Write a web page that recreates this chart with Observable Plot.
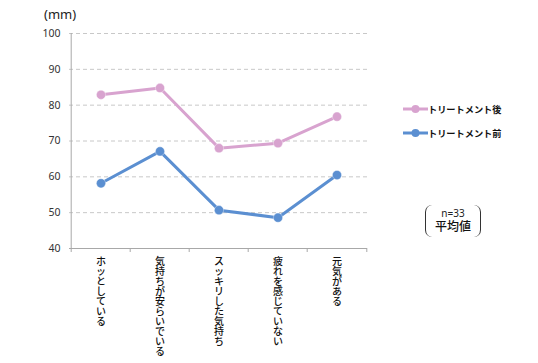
<!DOCTYPE html>
<html><head><meta charset="utf-8">
<script src="https://cdn.jsdelivr.net/npm/d3@7"></script>
<script src="https://cdn.jsdelivr.net/npm/@observablehq/plot@0.6"></script>
<style>
body{margin:0;background:#fff;}
#wrap{position:relative;width:538px;height:363px;font-family:"Noto Sans CJK JP","Noto Sans",sans-serif;color:#222;}
#unit{position:absolute;left:44px;top:5px;font-size:13px;font-family:"Noto Sans",sans-serif;color:#222;}
.leg{position:absolute;left:403px;font-size:9.2px;font-weight:bold;display:flex;align-items:center;white-space:nowrap;color:#111;}
.leg svg{display:block;}
#nbox{position:absolute;left:425px;top:205px;width:54px;height:32px;border-left:1.3px solid #333;border-right:1.3px solid #333;border-radius:7px;text-align:center;line-height:1;}
#nbox .n{font-size:10px;font-family:"Noto Sans",sans-serif;margin-top:3px;color:#222;}
#nbox .m{font-size:12px;margin-top:2px;color:#111;font-weight:500;}
</style></head>
<body><div id="wrap"></div>
<script>
const categories = ["ホッとしている","気持ちが安らいでいる","スッキリした気持ち","疲れを感じていない","元気がある"];
const seriesNames = ["トリートメント後","トリートメント前"];
const afterValues = [82.9, 84.8, 68.0, 69.4, 76.8];
const beforeValues = [58.2, 67.1, 50.7, 48.6, 60.5];
const yTicks = [40,50,60,70,80,90,100];
const colors = ["#d8a3cf","#5b8fd1"];
const unitLabel = "(mm)";
const nLabel = "n=33";
const meanLabel = "平均値";

const rows = [
  ...categories.map((c,i)=>({cat:c, value:afterValues[i], series:seriesNames[0]})),
  ...categories.map((c,i)=>({cat:c, value:beforeValues[i], series:seriesNames[1]}))
];

const W=538,H=363,mL=69,mR=171,mT=33,mB=115;
const bw=(W-mL-mR)/categories.length;

const chart = Plot.plot({
  width:W, height:H, marginLeft:mL, marginRight:mR, marginTop:mT, marginBottom:mB,
  style:{fontFamily:"'Noto Sans',sans-serif", fontSize:"10.5px", color:"#333", background:"white", overflow:"visible"},
  x:{type:"band", domain:categories, padding:0, axis:null},
  y:{domain:[40,100], axis:null},
  color:{domain:seriesNames, range:colors},
  marks:[
    Plot.gridY(yTicks, {stroke:"#c8c8c8", strokeOpacity:1, strokeDasharray:"4,3"}),
    Plot.ruleY([40], {stroke:"#a8a8a8"}),
    Plot.ruleX([categories[0]], {x:d=>d, dx:-bw/2, stroke:"#a8a8a8"}),
    Plot.axisX(categories, {tickSize:4, dx:-bw/2, tickFormat:()=>"", stroke:"#a8a8a8", label:null}),
    Plot.axisX([categories[categories.length-1]], {tickSize:4, dx:bw/2, tickFormat:()=>"", stroke:"#a8a8a8", label:null}),
    Plot.axisY(yTicks, {tickSize:0, tickPadding:9, label:null, fill:"#333"}),
    Plot.line(rows, {x:"cat", y:"value", z:"series", stroke:"series", strokeWidth:3}),
    Plot.dot(rows, {x:"cat", y:"value", fill:"series", r:4.6, stroke:"white", strokeWidth:0.6, strokeOpacity:0.6}),
    Plot.text(categories, {x:d=>d, text:d=>Array.from(d).join("\n"), frameAnchor:"bottom", dy:9, lineAnchor:"top", lineHeight:1.0, textAnchor:"middle", fill:"#111", fontSize:10, fontWeight:500, fontFamily:"'Noto Sans CJK JP',sans-serif"})
  ]
});

const wrap = document.getElementById("wrap");
wrap.appendChild(chart);
chart.style.position="absolute"; chart.style.left="0"; chart.style.top="0";

const u=document.createElement("div"); u.id="unit"; u.textContent=unitLabel; wrap.appendChild(u);

seriesNames.forEach((s,i)=>{
  const d=document.createElement("div"); d.className="leg"; d.style.top=(102+i*24)+"px";
  d.innerHTML=`<svg width="25" height="14"><line x1="0" x2="25" y1="7" y2="7" stroke="${colors[i]}" stroke-width="3"/><circle cx="12.5" cy="7" r="4" fill="${colors[i]}"/></svg><span></span>`;
  d.querySelector("span").textContent=s;
  wrap.appendChild(d);
});

const nb=document.createElement("div"); nb.id="nbox";
nb.innerHTML=`<div class="n"></div><div class="m"></div>`;
nb.querySelector(".n").textContent=nLabel;
nb.querySelector(".m").textContent=meanLabel;
wrap.appendChild(nb);
</script></body></html>
